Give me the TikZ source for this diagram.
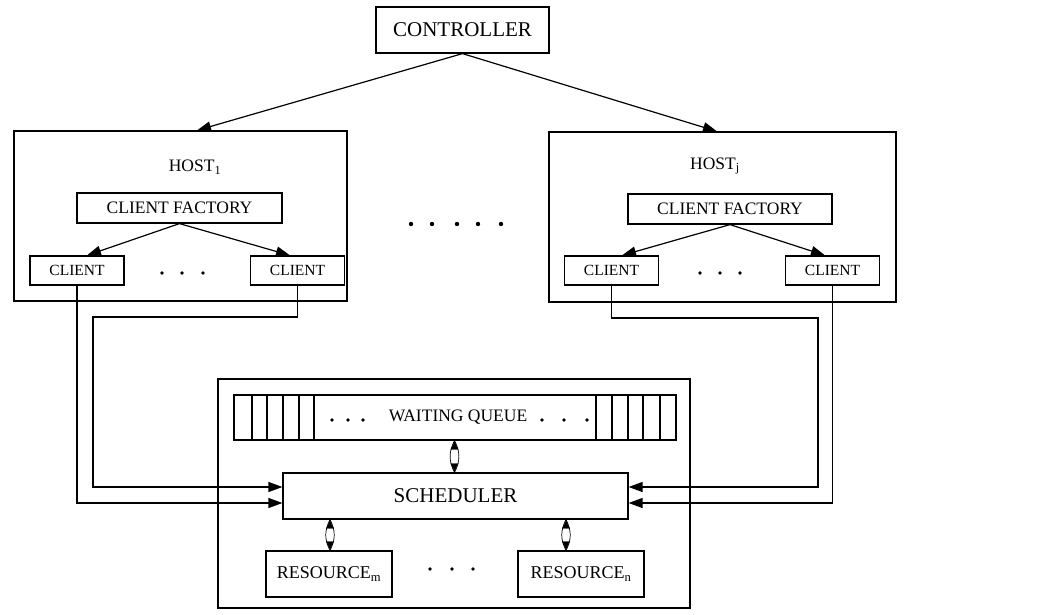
\documentclass[tikz,border=0pt]{standalone}
\usepackage{fontspec}
\setmainfont{Liberation Serif}
\usetikzlibrary{arrows.meta,calc}

\tikzset{
  box/.style={draw, line width=1.2pt, inner sep=0pt, align=center},
  lbl/.style={inner sep=0pt},
  wire/.style={line width=1.2pt},
  flow/.style={line width=1.2pt, -{Triangle[length=14pt,width=10pt]}},
  lensline/.style={line width=0.7pt},
  lenstips/.style={white, line width=0.3pt,
    {Latex[color=black,length=9pt,width=8pt]}-{Latex[color=black,length=9pt,width=8pt]}},
  dot/.style={fill, circle, inner sep=0pt, minimum size=4.4pt},
}

\begin{document}
\begin{tikzpicture}[x=1pt, y=-1pt]
\useasboundingbox (0,0) rectangle (1046,615);

% controller
\node[box, minimum width=173pt, minimum height=46pt, font=\fontsize{21}{22}\selectfont]
  (ctrl) at (462.5,30) {CONTROLLER};

% the two hosts
\node[box, minimum width=333pt, minimum height=170pt] (host1) at (180.5,216) {};
\node[box, minimum width=347pt, minimum height=170pt] (hostj) at (722.5,217) {};
\node[lbl, font=\fontsize{17.5}{18}\selectfont] (h1lbl) at (195,167) {HOST\textsubscript{1}};
\node[lbl, font=\fontsize{17.5}{18}\selectfont] (hjlbl) at (715,166) {HOST\textsubscript{j}};

\node[box, minimum width=205pt, minimum height=30pt, font=\fontsize{17.5}{18}\selectfont]
  (fac1) at (179.5,208) {CLIENT FACTORY};
\node[box, minimum width=204pt, minimum height=30pt, font=\fontsize{17.5}{18}\selectfont]
  (facj) at (730,209) {CLIENT FACTORY};

\tikzset{clientbox/.style={box, minimum width=94pt, minimum height=29pt, font=\fontsize{15.5}{16}\selectfont}}
\node[clientbox] (c1a) at (77,270.5) {CLIENT};
\node[clientbox] (c1b) at (297.5,270.5) {CLIENT};
\node[clientbox] (cja) at (611.5,270.5) {CLIENT};
\node[clientbox] (cjb) at (832.5,270.5) {CLIENT};

% ellipses
\foreach \x/\n in {162/a,182/b,203/c} \node[dot, minimum size=3.8pt] (d1\n) at (\x,273) {};
\foreach \x/\n in {700/a,720/b,740/c} \node[dot, minimum size=3.8pt] (dj\n) at (\x,273) {};
\foreach \x/\n in {411/a,432/b,457/c,478/d,501/e} \node[dot] (dh\n) at (\x,224) {};

% controller creates hosts
\draw[flow] (ctrl.south) -- ([xshift=16.5pt]host1.north);
\draw[flow] (ctrl.south) -- ([xshift=-5.5pt]hostj.north);

% factories create clients
\draw[flow] (fac1.south) -- ([xshift=10pt]c1a.north);
\draw[flow] (fac1.south) -- ([xshift=-7.5pt]c1b.north);
\draw[flow] (facj.south) -- ([xshift=10.5pt]cja.north);
\draw[flow] (facj.south) -- ([xshift=-7.5pt]cjb.north);

% resource manager
\node[box, minimum width=472pt, minimum height=229pt] (mgr) at (454,493.5) {};

% waiting queue with its slots
\node[box, minimum width=442pt, minimum height=45pt] (queue) at (455,417.5) {};
\foreach \x in {252,267,283,299,314,596,612,628,643,660}
  \draw[wire] (\x,395) -- (\x,440);
\node[lbl, font=\fontsize{17.5}{18}\selectfont] (qlbl) at (458,417) {WAITING QUEUE};
\foreach \x/\n in {332/a,348/b,363/c,542/d,564/e,587/f} \node[dot, minimum size=3.8pt] (dq\n) at (\x,420) {};

\node[box, minimum width=345pt, minimum height=46pt, font=\fontsize{21}{22}\selectfont]
  (sched) at (455.5,496) {SCHEDULER};

\tikzset{resbox/.style={box, minimum width=126pt, minimum height=46pt, font=\fontsize{18}{19}\selectfont}}
\node[resbox] (resm) at (329,574) {RESOURCE\textsubscript{m}};
\node[resbox] (resn) at (581,574) {RESOURCE\textsubscript{n}};
\foreach \x/\n in {430/a,452/b,473/c} \node[dot, minimum size=3.8pt] (dr\n) at (\x,569) {};

% two-way links to the scheduler
\coordinate (qs) at ([xshift=-0.5pt]queue.south);
\coordinate (rm) at ([xshift=1pt]resm.north);
\coordinate (rn) at ([xshift=-15pt]resn.north);
\foreach \a/\b in {qs/sched.north, rm/sched.south, rn/sched.south} {
  \coordinate (p) at (\a);
  \coordinate (q) at (\a |- \b);
  \draw[lensline] (p) to[bend left=28] (q);
  \draw[lensline] (p) to[bend right=28] (q);
  \draw[lenstips] (p) -- (q);
}

% clients submit to the scheduler
\coordinate (sw1) at ($(sched.west)+(0,-9)$);
\coordinate (sw2) at ($(sched.west)+(0,7)$);
\coordinate (se1) at ($(sched.east)+(0,-9)$);
\coordinate (se2) at ($(sched.east)+(0,7)$);
\draw[flow] (c1a.south) |- (sw2);
\draw[flow] (c1b.south) -- (297.5,317) -- (93,317) |- (sw1);
\draw[flow] (cja.south) -- (611.5,318) -- (818,318) |- (se1);
\draw[flow] (cjb.south) |- (se2);

\end{tikzpicture}
\end{document}
